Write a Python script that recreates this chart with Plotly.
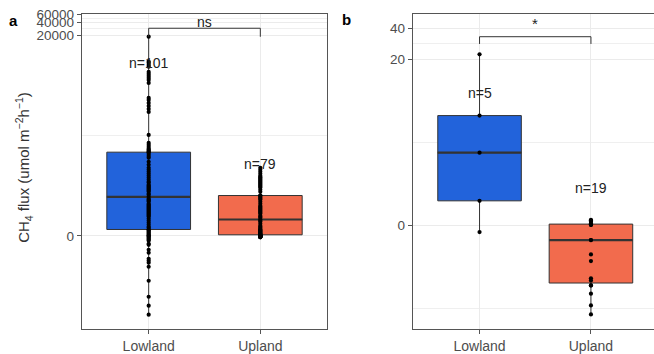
import numpy as np
import plotly.graph_objects as go

# ---------------- data (CH4 flux, umol m-2 h-1) ----------------
categories = ["Lowland", "Upland"]
fill_colors = ["#2263DB", "#F26B4D"]

# panel a
a_lowland = [1.86e+04,4.96e+03,4.63e+03,4.17e+03,3.81e+03,2.88e+03,2.59e+03,2.33e+03,2.1e+03,1.89e+03,1.61e+03,
             730,657,561,478,408,349,103,67.8,61,54.9,49.4,46.9,44.5,42.2,41.5,37.9,34.1,30.7,24.9,21.2,18.1,16.3,
             14.7,13.2,11.9,10.7,9.59,8.62,8.18,7.35,6.97,6.61,6.26,5.94,5.63,5.33,5.05,4.54,4.3,
             3.86,3.46,3.27,3.09,2.93,2.62,2.47,2.33,2.20,2.08,1.96,1.85,1.74,1.63,1.54,1.44,1.35,1.26,1.18,1.02,
             0.877,0.742,0.614,0.493,0.435,0.339,0.322,0.267,0.213,0.159,0.106,0.0528,0,0,-0.0528,-0.106,-0.159,
             -0.213,-0.267,-0.435,-0.493,-0.808,-1.02,-1.54,-1.74,-1.96,-2.47,-5.33,-12.5,-20.1,-32.4]
a_upland = [18.1,16.3,14.7,13.2,11.9,11.2,10.7,10.1,9.59,9.1,8.62,8.18,7.75,7.35,6.97,6.61,6.26,5.63,5.05,4.14,
            4.14,3.86,3.65,3.46,3.27,2.93,2.62,2.33,2.2,2.08,1.96,1.85,1.74,1.63,1.54,1.44,1.26,1.18,1.1,0.971,
            0.877,0.808,0.677,0.553,0.493,0.435,0.378,0.322,0.322,0.267,0.267,0.213,0.213,0.159,0.159,0.106,0.106,
            0.106,0.0528,0.0528,0.0423,0.0317,0.0211,0.0106,0,0,-0.0106,-0.0158,-0.0211,-0.0264,-0.0317,-0.037,
            -0.0423,-0.0475,-0.0528,-0.0581,-0.0634,-0.0687,-0.0793]
# panel b
b_lowland = [22.3, 5.69, 2.42, 0.575, -0.147]
b_upland = [-3.53,-2.86,-2.16,-1.76,-1.76,-1.55,-1.46,-0.874,-0.688,-0.329,-0.329,0.0155,0.0155,0.0155,
            0.0466,0.0821,0.104,0.111,0.127]

a_ticks = [0, 20000, 40000, 60000]
b_ticks = [0, 20, 40]
a_count_labels = ["n=101", "n=79"]
a_count_y = [4600, 22.3]
b_count_labels = ["n=5", "n=19"]
b_count_y = [9.5, 0.93]
a_sig = ("ns", 29000, 18500)     # label, bracket top, bracket leg end
b_sig = ("*", 33.0, 28.1)


def T(v):
    """pseudo-log (asinh) scale transform"""
    return np.arcsinh(np.asarray(v, dtype=float))


FONT = "Liberation Sans, Arial, sans-serif"
LINE = "#333333"
fig = go.Figure()

panels = [
    dict(xa="x", ya="y", data=[a_lowland, a_upland], labels=a_count_labels, ly=a_count_y, sig=a_sig),
    dict(xa="x2", ya="y2", data=[b_lowland, b_upland], labels=b_count_labels, ly=b_count_y, sig=b_sig),
]
BW = 0.75
for p in panels:
    for i, vals in enumerate(p["data"]):
        xi = i + 1
        t = np.sort(T(vals))
        q1, med, q3 = np.percentile(t, [25, 50, 75])
        iqr = q3 - q1
        lo = t[t >= q1 - 1.5 * iqr].min()
        hi = t[t <= q3 + 1.5 * iqr].max()
        fig.add_trace(go.Box(x=[xi], q1=[q1], median=[med], q3=[q3], lowerfence=[lo], upperfence=[hi],
                             width=BW, whiskerwidth=0, fillcolor=fill_colors[i],
                             line=dict(color=LINE, width=1), boxpoints=False, showlegend=False,
                             xaxis=p["xa"], yaxis=p["ya"], hoverinfo="skip"))
        fig.add_trace(go.Scatter(x=[xi - BW / 2, xi + BW / 2], y=[med, med], mode="lines",
                                 line=dict(color=LINE, width=2.2), showlegend=False,
                                 xaxis=p["xa"], yaxis=p["ya"], hoverinfo="skip"))
        fig.add_trace(go.Scatter(x=[xi] * len(vals), y=T(vals), mode="markers",
                                 marker=dict(color="black", size=4.2), showlegend=False,
                                 xaxis=p["xa"], yaxis=p["ya"], hoverinfo="skip"))
        fig.add_annotation(x=xi, y=float(T(p["ly"][i])), text=p["labels"][i], showarrow=False,
                           xanchor="center", yanchor="middle",
                           xref=p["xa"], yref=p["ya"], font=dict(family=FONT, size=14, color="#222"))
    lab, top, leg = p["sig"]
    fig.add_trace(go.Scatter(x=[1, 1, 2, 2], y=T([leg, top, top, leg]), mode="lines",
                             line=dict(color=LINE, width=1), showlegend=False,
                             xaxis=p["xa"], yaxis=p["ya"], hoverinfo="skip"))
    fig.add_annotation(x=1.5, y=float(T(top)), text=lab, showarrow=False, xanchor="center", yanchor="middle",
                       yshift=13 if lab == "*" else 6,
                       xref=p["xa"], yref=p["ya"], font=dict(family=FONT, size=15 if lab == "*" else 14, color="#222"))


def minor_vals(ticks):
    t = list(T(ticks))
    return [(a + b) / 2 for a, b in zip(t[:-1], t[1:])] + [t[0] - (t[1] - t[0]) / 2]


axis_common = dict(showline=True, linecolor="#555555", linewidth=1, ticks="outside", ticklen=4,
                   tickcolor="#555555", showgrid=True, gridcolor="#EBEBEB", gridwidth=1, zeroline=False)
xfont = dict(family=FONT, size=14, color="#4D4D4D")
yfont = dict(family=FONT, size=13.5, color="#4D4D4D")

fig.update_layout(
    width=654, height=354, margin=dict(l=0, r=0, t=14, b=25),
    paper_bgcolor="white", plot_bgcolor="white", showlegend=False,
    xaxis=dict(domain=[81.7 / 654, 327.3 / 654], range=[0.4, 2.6], tickvals=[1, 2], ticktext=categories,
               mirror=True, anchor="y", tickfont=xfont, **axis_common),
    yaxis=dict(range=[-4.926, 11.721], tickvals=list(T(a_ticks)), ticktext=[str(v) for v in a_ticks],
               mirror=True, anchor="x", tickfont=yfont,
               minor=dict(tickmode="array", tickvals=minor_vals(a_ticks), showgrid=True,
                          gridcolor="#EFEFEF", gridwidth=1, ticks=""),
               **axis_common),
    xaxis2=dict(domain=[412.7 / 654, 1.0], range=[0.4, 2.566], tickvals=[1, 2], ticktext=categories,
                mirror=True, anchor="y2", tickfont=xfont, **axis_common),
    yaxis2=dict(range=[-2.297, 4.694], tickvals=list(T(b_ticks)), ticktext=[str(v) for v in b_ticks],
                mirror=False, anchor="x2", tickfont=yfont,
                minor=dict(tickmode="array", tickvals=minor_vals(b_ticks), showgrid=True,
                           gridcolor="#EFEFEF", gridwidth=1, ticks=""),
                **axis_common),
)

fig.add_annotation(x=24 / 654, y=(329.3 - 168) / 315.3, xref="paper", yref="paper", textangle=-90,
                   showarrow=False, xanchor="center", yanchor="middle",
                   text="CH<sub>4</sub> flux (umol m<sup>\u22122</sup>h<sup>\u22121</sup>)",
                   font=dict(family=FONT, size=15, color="#333333"))
fig.add_annotation(x=13 / 654, y=1 - (21 - 14) / 315.3, xref="paper", yref="paper", text="<b>a</b>",
                   showarrow=False, xanchor="center", yanchor="middle",
                   font=dict(family=FONT, size=15, color="black"))
fig.add_annotation(x=346 / 654, y=1 - (20 - 14) / 315.3, xref="paper", yref="paper", text="<b>b</b>",
                   showarrow=False, xanchor="center", yanchor="middle",
                   font=dict(family=FONT, size=15, color="black"))

fig.write_html("out.html")
